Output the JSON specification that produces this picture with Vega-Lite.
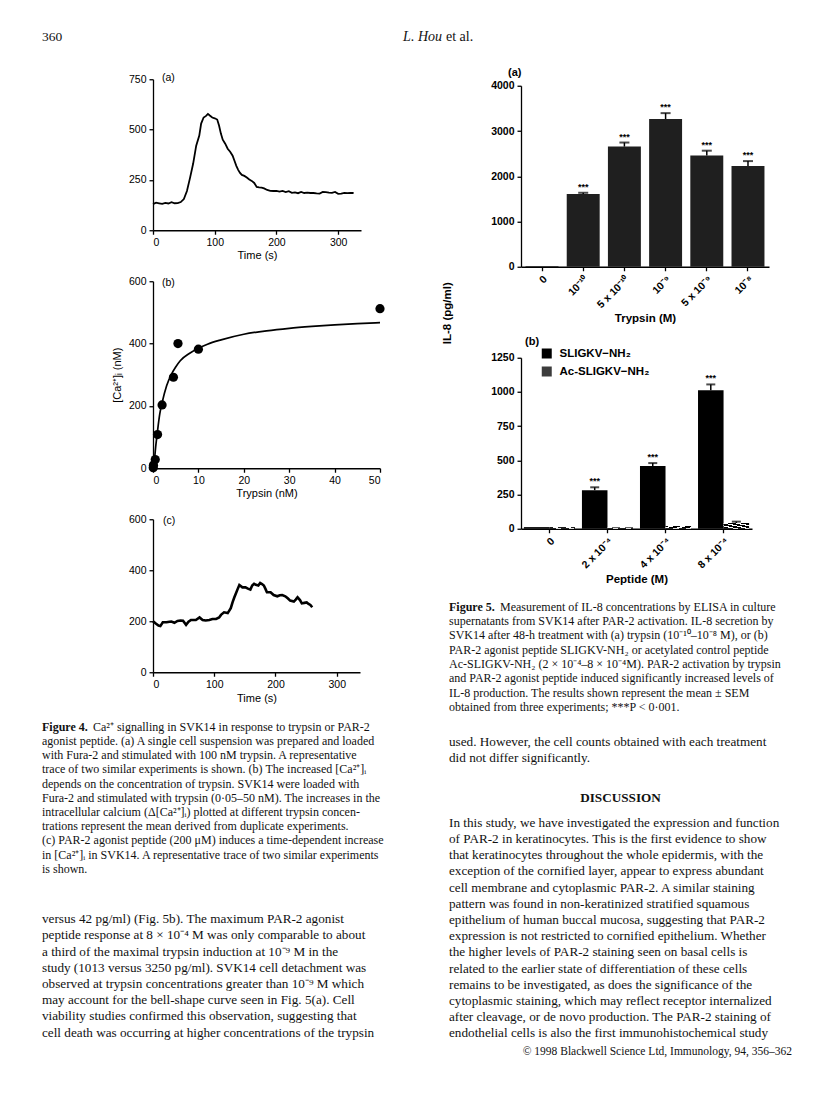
{
  "$schema": "https://vega.github.io/schema/vega-lite/v6.json",
  "background": "#ffffff",
  "padding": {"left": 42, "top": 30, "right": 0, "bottom": 0},
  "config": {
    "view": {"stroke": null},
    "font": "Liberation Sans",
    "axis": {"grid": false, "domainColor": "#000", "tickColor": "#000", "labelColor": "#000", "titleColor": "#000", "labelFont": "Liberation Sans", "titleFont": "Liberation Sans", "labelFontSize": 10.5, "titleFontSize": 11, "titleFontWeight": "normal", "tickSize": 4, "domainWidth": 1.3, "tickWidth": 1.3, "labelPadding": 3, "titlePadding": 3, "labelOverlap": false},
    "title": {"font": "Liberation Sans", "fontSize": 10.5, "fontWeight": "normal", "color": "#000"},
    "legend": {"labelFont": "Liberation Sans", "labelColor": "#000"}
  },
  "datasets": {
    "tra": [
      {"t":0,"v":130},{"t":5,"v":137},{"t":10,"v":134},{"t":15,"v":131},{"t":20,"v":136},{"t":25,"v":133},{"t":30,"v":139},{"t":35,"v":134},{"t":40,"v":135},{"t":45,"v":140},{"t":50,"v":155},{"t":55,"v":195},{"t":60,"v":260},{"t":65,"v":330},{"t":70,"v":420},{"t":75,"v":470},{"t":78,"v":530},{"t":82,"v":560},{"t":86,"v":568},{"t":89,"v":578},{"t":92,"v":570},{"t":96,"v":560},{"t":100,"v":556},{"t":104,"v":550},{"t":107,"v":520},{"t":110,"v":480},{"t":113,"v":450},{"t":117,"v":430},{"t":121,"v":405},{"t":125,"v":390},{"t":129,"v":370},{"t":132,"v":345},{"t":135,"v":320},{"t":138,"v":300},{"t":141,"v":285},{"t":144,"v":275},{"t":148,"v":270},{"t":152,"v":262},{"t":156,"v":252},{"t":160,"v":245},{"t":164,"v":235},{"t":168,"v":215},{"t":172,"v":213},{"t":176,"v":212},{"t":180,"v":208},{"t":185,"v":200},{"t":190,"v":196},{"t":195,"v":195},{"t":200,"v":196},{"t":205,"v":192},{"t":210,"v":195},{"t":215,"v":190},{"t":220,"v":194},{"t":225,"v":186},{"t":230,"v":188},{"t":235,"v":184},{"t":240,"v":190},{"t":245,"v":185},{"t":250,"v":187},{"t":255,"v":185},{"t":260,"v":185},{"t":265,"v":183},{"t":270,"v":182},{"t":275,"v":190},{"t":280,"v":189},{"t":285,"v":187},{"t":290,"v":186},{"t":295,"v":190},{"t":300,"v":181},{"t":305,"v":182},{"t":310,"v":186},{"t":315,"v":184},{"t":320,"v":186},{"t":325,"v":185}
    ],
    "ptsb": [
      {"x":0.05,"y":2},{"x":0.1,"y":10},{"x":0.5,"y":28},{"x":1,"y":108},{"x":2,"y":203},{"x":4.5,"y":292},{"x":5.5,"y":400},{"x":10,"y":382},{"x":50,"y":512}
    ],
    "fitb": [
      {"x":0,"y":0},{"x":0.3,"y":25},{"x":0.6,"y":70},{"x":1,"y":120},{"x":1.5,"y":175},{"x":2,"y":210},{"x":3,"y":265},{"x":4,"y":300},{"x":5,"y":325},{"x":6,"y":345},{"x":8,"y":368},{"x":10,"y":385},{"x":12,"y":398},{"x":15,"y":412},{"x":20,"y":430},{"x":25,"y":441},{"x":30,"y":449},{"x":35,"y":455},{"x":40,"y":460},{"x":45,"y":464},{"x":50,"y":467}
    ],
    "trc": [
      {"t":0,"v":200},{"t":5,"v":190},{"t":9,"v":183},{"t":12,"v":181},{"t":16,"v":196},{"t":22,"v":196},{"t":27,"v":198},{"t":30,"v":199},{"t":35,"v":194},{"t":40,"v":201},{"t":45,"v":203},{"t":49,"v":202},{"t":54,"v":186},{"t":58,"v":198},{"t":62,"v":205},{"t":70,"v":205},{"t":76,"v":215},{"t":81,"v":205},{"t":86,"v":203},{"t":92,"v":205},{"t":97,"v":209},{"t":103,"v":209},{"t":108,"v":215},{"t":111,"v":225},{"t":116,"v":235},{"t":122,"v":232},{"t":127,"v":251},{"t":130,"v":275},{"t":133,"v":295},{"t":135,"v":307},{"t":138,"v":325},{"t":141,"v":342},{"t":146,"v":333},{"t":151,"v":333},{"t":155,"v":328},{"t":159,"v":324},{"t":162,"v":340},{"t":165,"v":347},{"t":168,"v":343},{"t":172,"v":340},{"t":175,"v":350},{"t":178,"v":346},{"t":181,"v":340},{"t":184,"v":325},{"t":186,"v":314},{"t":192,"v":314},{"t":197,"v":303},{"t":203,"v":298},{"t":207,"v":302},{"t":211,"v":303},{"t":216,"v":298},{"t":220,"v":290},{"t":224,"v":281},{"t":230,"v":277},{"t":233,"v":285},{"t":236,"v":294},{"t":240,"v":283},{"t":243,"v":270},{"t":247,"v":272},{"t":251,"v":274},{"t":254,"v":268},{"t":257,"v":264},{"t":260,"v":255}
    ],
    "f5a": [
      {"dose":"0","v":18,"hi":18,"sig":""},
      {"dose":"10⁻¹⁰","v":1610,"hi":1635,"sig":"***"},
      {"dose":"5 x 10⁻¹⁰","v":2655,"hi":2745,"sig":"***"},
      {"dose":"10⁻⁹","v":3265,"hi":3395,"sig":"***"},
      {"dose":"5 x 10⁻⁹","v":2458,"hi":2565,"sig":"***"},
      {"dose":"10⁻⁸","v":2225,"hi":2335,"sig":"***"}
    ],
    "f5b": [
      {"dose":"0","pep":"SLIGKV−NH₂","v":12,"hi":12,"sig":""},
      {"dose":"0","pep":"Ac-SLIGKV−NH₂","v":12,"hi":12,"sig":""},
      {"dose":"2 x 10⁻⁴","pep":"SLIGKV−NH₂","v":282,"hi":303,"sig":"***"},
      {"dose":"2 x 10⁻⁴","pep":"Ac-SLIGKV−NH₂","v":10,"hi":10,"sig":""},
      {"dose":"4 x 10⁻⁴","pep":"SLIGKV−NH₂","v":458,"hi":480,"sig":"***"},
      {"dose":"4 x 10⁻⁴","pep":"Ac-SLIGKV−NH₂","v":20,"hi":20,"sig":""},
      {"dose":"8 x 10⁻⁴","pep":"SLIGKV−NH₂","v":1013,"hi":1055,"sig":"***"},
      {"dose":"8 x 10⁻⁴","pep":"Ac-SLIGKV−NH₂","v":42,"hi":52,"sig":""}
    ]
  },
  "resolve": {"scale": {"color": "independent"}, "legend": {"color": "independent"}},
  "spacing": 22.25,
  "vconcat": [
    {
      "width": 800,
      "height": {"step": 14},
      "layer": [
        {"data": {"values": [{"i": 0, "t": "360"}]}, "mark": {"type": "text", "align": "left", "baseline": "middle", "font": "Liberation Serif", "fontSize": 13.5, "color": "#111"}, "encoding": {"y": {"field": "i", "type": "ordinal", "axis": null}, "x": {"datum": 0, "type": "quantitative", "axis": null, "scale": {"domain": [0, 1]}}, "text": {"field": "t"}}},
        {"data": {"values": [{"i": 0, "t": "L. Hou"}]}, "mark": {"type": "text", "align": "right", "baseline": "middle", "font": "Liberation Serif", "fontStyle": "italic", "fontSize": 14, "color": "#111"}, "encoding": {"y": {"field": "i", "type": "ordinal", "axis": null}, "text": {"field": "t"}}},
        {"data": {"values": [{"i": 0, "t": "et al."}]}, "mark": {"type": "text", "align": "left", "baseline": "middle", "dx": 4, "font": "Liberation Serif", "fontSize": 14, "color": "#111"}, "encoding": {"y": {"field": "i", "type": "ordinal", "axis": null}, "text": {"field": "t"}}}
      ]
    },
    {
      "resolve": {"scale": {"color": "independent"}, "legend": {"color": "independent"}},
      "spacing": 3,
      "vconcat": [
        {
          "resolve": {"scale": {"color": "independent"}, "legend": {"color": "independent"}},
          "spacing": 49,
          "hconcat": [
            {
              "spacing": 15.4,
              "vconcat": [
                {
                  "spacing": 10,
                  "hconcat": [
                    {"width": 58.5, "height": 1, "data": {"values": []}, "mark": {"type": "point", "opacity": 0}, "encoding": {}},
                    {
                      "bounds": "flush",
                      "spacing": 51,
                      "vconcat": [
                        {
                          "width": 208, "height": 151,
                          "title": {"text": "(a)", "anchor": "start", "frame": "group", "offset": -9, "dx": 9},
                          "data": {"name": "tra"},
                          "mark": {"type": "line", "color": "#000", "strokeWidth": 1.8},
                          "encoding": {
                            "x": {"field": "t", "type": "quantitative", "scale": {"domain": [0, 337], "nice": false}, "axis": {"values": [0, 100, 200, 300], "title": "Time (s)", "titlePadding": 2}},
                            "y": {"field": "v", "type": "quantitative", "scale": {"domain": [0, 750], "nice": false}, "axis": {"values": [0, 250, 500, 750], "title": null}}
                          }
                        },
                        {
                          "width": 227, "height": 187,
                          "title": {"text": "(b)", "anchor": "start", "frame": "group", "offset": -12, "dx": 9},
                          "layer": [
                            {
                              "data": {"name": "fitb"},
                              "mark": {"type": "line", "color": "#000", "strokeWidth": 1.7, "interpolate": "monotone"},
                              "encoding": {
                                "x": {"field": "x", "type": "quantitative", "scale": {"domain": [0, 50], "nice": false}, "axis": {"values": [0, 10, 20, 30, 40, 50], "title": "Trypsin (nM)", "titlePadding": 2}},
                                "y": {"field": "y", "type": "quantitative", "scale": {"domain": [0, 600], "nice": false}, "axis": {"values": [0, 200, 400, 600], "title": "[Ca²⁺]ᵢ (nM)", "titlePadding": 6}}
                              }
                            },
                            {
                              "data": {"name": "ptsb"},
                              "mark": {"type": "circle", "color": "#000", "opacity": 1, "size": 85},
                              "encoding": {
                                "x": {"field": "x", "type": "quantitative", "axis": {"values": [0, 10, 20, 30, 40, 50], "title": "Trypsin (nM)", "titlePadding": 2}},
                                "y": {"field": "y", "type": "quantitative", "axis": {"values": [0, 200, 400, 600], "title": "[Ca²⁺]ᵢ (nM)", "titlePadding": 6}}
                              }
                            }
                          ]
                        },
                        {
                          "width": 207, "height": 153,
                          "title": {"text": "(c)", "anchor": "start", "frame": "group", "offset": -12, "dx": 10},
                          "data": {"name": "trc"},
                          "mark": {"type": "line", "color": "#000", "strokeWidth": 2.6},
                          "encoding": {
                            "x": {"field": "t", "type": "quantitative", "scale": {"domain": [0, 338], "nice": false}, "axis": {"values": [0, 100, 200, 300], "title": "Time (s)", "titlePadding": 3}},
                            "y": {"field": "v", "type": "quantitative", "scale": {"domain": [0, 600], "nice": false}, "axis": {"values": [0, 200, 400, 600], "title": null}}
                          }
                        }
                      ]
                    }
                  ]
                },
                {
                  "bounds": "flush",
                  "spacing": 34.4,
                  "vconcat": [
                    {
                      "width": 350,
                      "height": {"step": 14.2},
                      "data": {"values": [
                        {"i": 1, "t": "agonist peptide. (a) A single cell suspension was prepared and loaded"},
                        {"i": 2, "t": "with Fura-2 and stimulated with 100 nM trypsin. A representative"},
                        {"i": 3, "t": "trace of two similar experiments is shown. (b) The increased [Ca²⁺]ᵢ"},
                        {"i": 4, "t": "depends on the concentration of trypsin. SVK14 were loaded with"},
                        {"i": 5, "t": "Fura-2 and stimulated with trypsin (0·05–50 nM). The increases in the"},
                        {"i": 6, "t": "intracellular calcium (Δ[Ca²⁺]ᵢ) plotted at different trypsin concen-"},
                        {"i": 7, "t": "trations represent the mean derived from duplicate experiments."},
                        {"i": 8, "t": "(c) PAR-2 agonist peptide (200 μM) induces a time-dependent increase"},
                        {"i": 9, "t": "in [Ca²⁺]ᵢ in SVK14. A representative trace of two similar experiments"},
                        {"i": 10, "t": "is shown."}
                      ]},
                      "layer": [
                        {"mark": {"type": "text", "align": "left", "baseline": "middle", "font": "Liberation Serif", "fontSize": 12, "color": "#111"}, "encoding": {"y": {"field": "i", "type": "ordinal", "axis": null, "scale": {"domain": [0, 1, 2, 3, 4, 5, 6, 7, 8, 9, 10]}}, "x": {"datum": 0, "type": "quantitative", "axis": null, "scale": {"domain": [0, 1]}}, "text": {"field": "t"}}},
                        {"data": {"values": [{"i": 0, "t": "Figure 4."}]}, "mark": {"type": "text", "align": "left", "baseline": "middle", "font": "Liberation Serif", "fontSize": 12, "fontWeight": "bold", "color": "#111"}, "encoding": {"y": {"field": "i", "type": "ordinal", "axis": null}, "x": {"datum": 0, "type": "quantitative", "axis": null}, "text": {"field": "t"}}},
                        {"data": {"values": [{"i": 0, "t": "Ca²⁺ signalling in SVK14 in response to trypsin or PAR-2"}]}, "mark": {"type": "text", "align": "left", "baseline": "middle", "dx": 51, "font": "Liberation Serif", "fontSize": 12, "color": "#111"}, "encoding": {"y": {"field": "i", "type": "ordinal", "axis": null}, "x": {"datum": 0, "type": "quantitative", "axis": null}, "text": {"field": "t"}}}
                      ]
                    },
                    {
                      "width": 350,
                      "height": {"step": 16.2},
                      "data": {"values": [
                        {"i": 0, "t": "versus 42 pg/ml) (Fig. 5b). The maximum PAR-2 agonist"},
                        {"i": 1, "t": "peptide response at 8 × 10⁻⁴ M was only comparable to about"},
                        {"i": 2, "t": "a third of the maximal trypsin induction at 10⁻⁹ M in the"},
                        {"i": 3, "t": "study (1013 versus 3250 pg/ml). SVK14 cell detachment was"},
                        {"i": 4, "t": "observed at trypsin concentrations greater than 10⁻⁹ M which"},
                        {"i": 5, "t": "may account for the bell-shape curve seen in Fig. 5(a). Cell"},
                        {"i": 6, "t": "viability studies confirmed this observation, suggesting that"},
                        {"i": 7, "t": "cell death was occurring at higher concentrations of the trypsin"}
                      ]},
                      "mark": {"type": "text", "align": "left", "baseline": "middle", "font": "Liberation Serif", "fontSize": 13.2, "color": "#111"},
                      "encoding": {"y": {"field": "i", "type": "ordinal", "axis": null}, "x": {"datum": 0, "type": "quantitative", "axis": null, "scale": {"domain": [0, 1]}}, "text": {"field": "t"}}
                    }
                  ]
                }
              ]
            },
            {
              "resolve": {"scale": {"color": "independent"}, "legend": {"color": "independent"}},
              "spacing": 14.4,
              "vconcat": [
                {
                  "resolve": {"scale": {"color": "independent"}, "legend": {"color": "independent"}},
                  "spacing": -13.5,
                  "vconcat": [
                    {"width": 1, "height": 1, "data": {"values": []}, "mark": {"type": "point", "opacity": 0}, "encoding": {}},
                    {
                      "resolve": {"scale": {"color": "independent"}, "legend": {"color": "independent"}},
                      "spacing": -9,
                      "hconcat": [
                        {"width": 1, "height": 1, "data": {"values": []}, "mark": {"type": "point", "opacity": 0}, "encoding": {}},
                        {
                          "resolve": {"scale": {"color": "independent"}, "legend": {"color": "independent"}},
                          "bounds": "flush",
                          "spacing": 91,
                          "vconcat": [
                            {
                              "width": 248, "height": 181,
                              "title": {"text": "(a)", "anchor": "start", "frame": "group", "offset": 3, "dx": -13, "fontSize": 11, "fontWeight": "bold"},
                              "data": {"name": "f5a"},
                              "encoding": {
                                "x": {"field": "dose", "type": "nominal", "sort": null, "scale": {"paddingInner": 0.2, "paddingOuter": 0.11}, "axis": {"labelAngle": -45, "title": "Trypsin (M)", "labelFontWeight": "bold", "titleFontWeight": "bold", "titleFontSize": 11.5, "labelFontSize": 10.5}}
                              },
                              "layer": [
                                {"mark": {"type": "bar", "color": "#1f1f1f"}, "encoding": {"y": {"field": "v", "type": "quantitative", "scale": {"domain": [0, 4000], "nice": false}, "axis": {"values": [0, 1000, 2000, 3000, 4000], "format": "d", "labelOverlap": false, "labelFontWeight": "bold", "title": "IL-8 (pg/ml)", "titleFontWeight": "bold", "titleFontSize": 11.5, "titleX": -74, "titleY": 227, "titleAlign": "center", "titleBaseline": "middle", "titleAngle": -90}}}},
                                {"transform": [{"filter": "datum.hi > datum.v"}], "mark": {"type": "rule", "color": "#000", "strokeWidth": 1.5}, "encoding": {"y": {"field": "v", "type": "quantitative", "axis": {"values": [0, 1000, 2000, 3000, 4000], "format": "d", "labelOverlap": false, "labelFontWeight": "bold", "title": "IL-8 (pg/ml)", "titleFontWeight": "bold", "titleFontSize": 11.5, "titleX": -74, "titleY": 227, "titleAlign": "center", "titleBaseline": "middle", "titleAngle": -90}}, "y2": {"field": "hi"}}},
                                {"transform": [{"filter": "datum.hi > datum.v"}], "mark": {"type": "tick", "color": "#000", "size": 10, "thickness": 2}, "encoding": {"y": {"field": "hi", "type": "quantitative", "axis": {"values": [0, 1000, 2000, 3000, 4000], "format": "d", "labelOverlap": false, "labelFontWeight": "bold", "title": "IL-8 (pg/ml)", "titleFontWeight": "bold", "titleFontSize": 11.5, "titleX": -74, "titleY": 227, "titleAlign": "center", "titleBaseline": "middle", "titleAngle": -90}}}},
                                {"mark": {"type": "text", "baseline": "bottom", "dy": -1, "font": "Liberation Sans", "fontWeight": "bold", "fontSize": 9, "color": "#000"}, "encoding": {"y": {"field": "hi", "type": "quantitative", "axis": {"values": [0, 1000, 2000, 3000, 4000], "format": "d", "labelOverlap": false, "labelFontWeight": "bold", "title": "IL-8 (pg/ml)", "titleFontWeight": "bold", "titleFontSize": 11.5, "titleX": -74, "titleY": 227, "titleAlign": "center", "titleBaseline": "middle", "titleAngle": -90}}, "text": {"field": "sig"}}}
                              ]
                            },
                            {
                              "width": 231, "height": 171,
                              "title": {"text": "(b)", "anchor": "start", "frame": "group", "offset": 1, "dx": 4, "fontSize": 11, "fontWeight": "bold"},
                              "data": {"name": "f5b"},
                              "encoding": {
                                "x": {"field": "dose", "type": "nominal", "sort": null, "scale": {"paddingInner": 0.12, "paddingOuter": 0.05}, "axis": {"labelAngle": -45, "title": "Peptide (M)", "labelFontWeight": "bold", "titleFontWeight": "bold", "titleFontSize": 11.5, "labelFontSize": 10.5}},
                                "xOffset": {"field": "pep", "type": "nominal", "sort": null, "scale": {"domain": ["SLIGKV−NH₂", "Ac-SLIGKV−NH₂"]}}
                              },
                              "layer": [
                                {"transform": [{"filter": "datum.pep === 'SLIGKV−NH₂'"}], "mark": {"type": "bar"}, "encoding": {
                                  "y": {"field": "v", "type": "quantitative", "scale": {"domain": [0, 1250], "nice": false}, "axis": {"values": [0, 250, 500, 750, 1000, 1250], "format": "d", "labelOverlap": false, "labelFontWeight": "bold", "title": null}},
                                  "color": {"field": "pep", "type": "nominal", "sort": null, "scale": {"domain": ["SLIGKV−NH₂", "Ac-SLIGKV−NH₂"], "range": ["#000000", "#3c3c3c"]}, "legend": {"orient": "none", "legendX": 20, "legendY": -10, "title": null, "symbolType": "square", "symbolSize": 100, "symbolStrokeWidth": 0, "symbolOpacity": 1, "labelFontSize": 11.5, "labelFontWeight": "bold", "labelFont": "Liberation Sans", "labelOffset": 7, "rowPadding": 5}}
                                }},
                                {"transform": [{"filter": "datum.pep === 'Ac-SLIGKV−NH₂'"}], "mark": {"type": "bar", "fill": {"gradient": "linear", "x1": 0, "y1": 1, "x2": 1, "y2": 0, "stops": [{"offset": 0, "color": "#000"}, {"offset": 0.2, "color": "#000"}, {"offset": 0.2, "color": "#fff"}, {"offset": 0.3, "color": "#fff"}, {"offset": 0.3, "color": "#000"}, {"offset": 0.45, "color": "#000"}, {"offset": 0.45, "color": "#fff"}, {"offset": 0.55, "color": "#fff"}, {"offset": 0.55, "color": "#000"}, {"offset": 0.7, "color": "#000"}, {"offset": 0.7, "color": "#fff"}, {"offset": 0.8, "color": "#fff"}, {"offset": 0.8, "color": "#000"}, {"offset": 1, "color": "#000"}]}}, "encoding": {"y": {"field": "v", "type": "quantitative", "axis": {"values": [0, 250, 500, 750, 1000, 1250], "format": "d", "labelOverlap": false, "labelFontWeight": "bold", "title": null}}}},
                                {"transform": [{"filter": "datum.hi > datum.v"}], "mark": {"type": "rule", "color": "#000", "strokeWidth": 1.5}, "encoding": {"y": {"field": "v", "type": "quantitative", "axis": {"values": [0, 250, 500, 750, 1000, 1250], "format": "d", "labelOverlap": false, "labelFontWeight": "bold", "title": null}}, "y2": {"field": "hi"}}},
                                {"transform": [{"filter": "datum.hi > datum.v"}], "mark": {"type": "tick", "color": "#000", "size": 9, "thickness": 2}, "encoding": {"y": {"field": "hi", "type": "quantitative", "axis": {"values": [0, 250, 500, 750, 1000, 1250], "format": "d", "labelOverlap": false, "labelFontWeight": "bold", "title": null}}}},
                                {"mark": {"type": "text", "baseline": "bottom", "dy": -1, "font": "Liberation Sans", "fontWeight": "bold", "fontSize": 9, "color": "#000"}, "encoding": {"y": {"field": "hi", "type": "quantitative", "axis": {"values": [0, 250, 500, 750, 1000, 1250], "format": "d", "labelOverlap": false, "labelFontWeight": "bold", "title": null}}, "text": {"field": "sig"}}}
                              ]
                            }
                          ]
                        }
                      ]
                    }
                  ]
                },
                {
                  "bounds": "flush",
                  "spacing": 19,
                  "vconcat": [
                    {
                      "width": 343,
                      "height": {"step": 14.3},
                      "data": {"values": [
                        {"i": 1, "t": "supernatants from SVK14 after PAR-2 activation. IL-8 secretion by"},
                        {"i": 2, "t": "SVK14 after 48-h treatment with (a) trypsin (10⁻¹⁰–10⁻⁸ M), or (b)"},
                        {"i": 3, "t": "PAR-2 agonist peptide SLIGKV-NH₂ or acetylated control peptide"},
                        {"i": 4, "t": "Ac-SLIGKV-NH₂ (2 × 10⁻⁴–8 × 10⁻⁴M). PAR-2 activation by trypsin"},
                        {"i": 5, "t": "and PAR-2 agonist peptide induced significantly increased levels of"},
                        {"i": 6, "t": "IL-8 production. The results shown represent the mean ± SEM"},
                        {"i": 7, "t": "obtained from three experiments; ***P < 0·001."}
                      ]},
                      "layer": [
                        {"mark": {"type": "text", "align": "left", "baseline": "middle", "font": "Liberation Serif", "fontSize": 12, "color": "#111"}, "encoding": {"y": {"field": "i", "type": "ordinal", "axis": null, "scale": {"domain": [0, 1, 2, 3, 4, 5, 6, 7]}}, "x": {"datum": 0, "type": "quantitative", "axis": null, "scale": {"domain": [0, 1]}}, "text": {"field": "t"}}},
                        {"data": {"values": [{"i": 0, "t": "Figure 5."}]}, "mark": {"type": "text", "align": "left", "baseline": "middle", "font": "Liberation Serif", "fontSize": 12, "fontWeight": "bold", "color": "#111"}, "encoding": {"y": {"field": "i", "type": "ordinal", "axis": null}, "x": {"datum": 0, "type": "quantitative", "axis": null}, "text": {"field": "t"}}},
                        {"data": {"values": [{"i": 0, "t": "Measurement of IL-8 concentrations by ELISA in culture"}]}, "mark": {"type": "text", "align": "left", "baseline": "middle", "dx": 51, "font": "Liberation Serif", "fontSize": 12, "color": "#111"}, "encoding": {"y": {"field": "i", "type": "ordinal", "axis": null}, "x": {"datum": 0, "type": "quantitative", "axis": null}, "text": {"field": "t"}}}
                      ]
                    },
                    {
                      "width": 343,
                      "height": 307.8,
                      "data": {"values": [
                        {"i": 0, "t": "used. However, the cell counts obtained with each treatment"},
                        {"i": 1, "t": "did not differ significantly."},
                        {"i": 5, "t": "In this study, we have investigated the expression and function"},
                        {"i": 6, "t": "of PAR-2 in keratinocytes. This is the first evidence to show"},
                        {"i": 7, "t": "that keratinocytes throughout the whole epidermis, with the"},
                        {"i": 8, "t": "exception of the cornified layer, appear to express abundant"},
                        {"i": 9, "t": "cell membrane and cytoplasmic PAR-2. A similar staining"},
                        {"i": 10, "t": "pattern was found in non-keratinized stratified squamous"},
                        {"i": 11, "t": "epithelium of human buccal mucosa, suggesting that PAR-2"},
                        {"i": 12, "t": "expression is not restricted to cornified epithelium. Whether"},
                        {"i": 13, "t": "the higher levels of PAR-2 staining seen on basal cells is"},
                        {"i": 14, "t": "related to the earlier state of differentiation of these cells"},
                        {"i": 15, "t": "remains to be investigated, as does the significance of the"},
                        {"i": 16, "t": "cytoplasmic staining, which may reflect receptor internalized"},
                        {"i": 17, "t": "after cleavage, or de novo production. The PAR-2 staining of"},
                        {"i": 18, "t": "endothelial cells is also the first immunohistochemical study"}
                      ]},
                      "layer": [
                        {"mark": {"type": "text", "align": "left", "baseline": "middle", "font": "Liberation Serif", "fontSize": 13.2, "color": "#111"}, "encoding": {"y": {"field": "i", "type": "quantitative", "axis": null, "scale": {"domain": [-0.5, 18.5], "reverse": true, "nice": false, "zero": false}}, "x": {"datum": 0, "type": "quantitative", "axis": null, "scale": {"domain": [0, 1]}}, "text": {"field": "t"}}},
                        {"data": {"values": [{"i": 3.5, "t": "DISCUSSION"}]}, "mark": {"type": "text", "align": "center", "baseline": "middle", "font": "Liberation Serif", "fontSize": 13.2, "fontWeight": "bold", "color": "#111"}, "encoding": {"y": {"field": "i", "type": "quantitative", "axis": null}, "text": {"field": "t"}}}
                      ]
                    }
                  ]
                }
              ]
            }
          ]
        },
        {
          "width": 750,
          "height": {"step": 14},
          "data": {"values": [{"i": 0, "t": "© 1998 Blackwell Science Ltd, Immunology, 94, 356–362"}]},
          "mark": {"type": "text", "align": "right", "baseline": "middle", "font": "Liberation Serif", "fontSize": 11.5, "color": "#111"},
          "encoding": {"y": {"field": "i", "type": "ordinal", "axis": null}, "x": {"datum": 1, "type": "quantitative", "axis": null, "scale": {"domain": [0, 1]}}, "text": {"field": "t"}}
        }
      ]
    }
  ]
}
